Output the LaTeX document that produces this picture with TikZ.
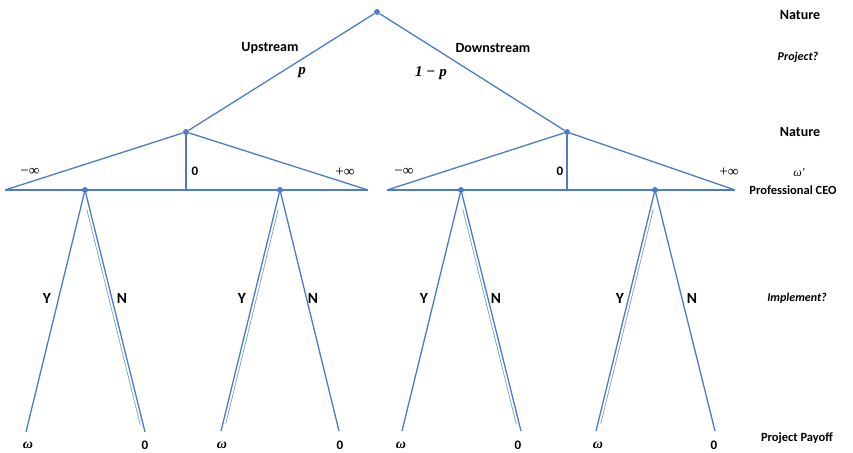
\documentclass[tikz,border=0pt]{standalone}
\usepackage{fontspec}
\setmainfont{Carlito}
\newfontfamily\mathish{Liberation Serif}
\usetikzlibrary{positioning,calc}
\definecolor{tree}{HTML}{4A7CC9}

\begin{document}
\begin{tikzpicture}[x=1pt, y=-1pt,
  dot/.style={circle, fill=tree, inner sep=0pt, minimum size=6pt},
  branch/.style={draw=tree, line width=1.3pt},
  ghost/.style={draw=tree!75, line width=0.7pt},
  lab/.style={font=\bfseries\fontsize{14}{16}\selectfont, inner sep=1pt},
  prob/.style={font=\mathish\bfseries\itshape\fontsize{15}{17}\selectfont, inner sep=1pt},
  bound/.style={font=\mathish\fontsize{15}{17}\selectfont, inner sep=1pt},
  choice/.style={font=\bfseries\fontsize{15.5}{17}\selectfont, inner sep=1pt},
  pay/.style={font=\bfseries\fontsize{13}{15}\selectfont, inner sep=1pt},
  omega/.style={font=\mathish\bfseries\itshape\fontsize{14}{16}\selectfont, inner sep=1pt},
  stage/.style={font=\bfseries\fontsize{12.5}{14}\selectfont, inner sep=1pt},
  ask/.style={font=\bfseries\itshape\fontsize{12}{14}\selectfont, inner sep=1pt}]
\useasboundingbox (0,0) rectangle (853,452);
\node[dot] (root) at (377,12) {};
\node[dot] (natL) at (186,132) {};
\node[dot] (natR) at (567,132) {};
\coordinate (bL0) at (5,190);
\coordinate (bL1) at (368,190);
\coordinate (mL) at (186,190);
\coordinate (bR0) at (387,190);
\coordinate (bR1) at (735,190);
\coordinate (mR) at (567,190);
\node[dot] (ceo1) at (85,190) {};
\node[dot] (ceo2) at (280,190) {};
\node[dot] (ceo3) at (461,190) {};
\node[dot] (ceo4) at (655,190) {};
\coordinate (y1) at (26,432);
\coordinate (n1) at (145,432);
\coordinate (y2) at (221,431);
\coordinate (n2) at (339,431);
\coordinate (y3) at (402,431);
\coordinate (n3) at (521,431);
\coordinate (y4) at (596,431);
\coordinate (n4) at (715,431);
\draw[branch] (root) -- (natL);
\draw[branch] (root) -- (natR);
\draw[branch] (bL0) -- (natL) -- (bL1);
\draw[branch] (bL0) -- (bL1);
\draw[branch] (natL) -- (mL);
\draw[branch] (bR0) -- (natR) -- (bR1);
\draw[branch] (bR0) -- (bR1);
\draw[branch] (natR) -- (mR);
\draw[branch] (y1) -- (ceo1) -- (n1);
\draw[branch] (y2) -- (ceo2) -- (n2);
\draw[branch] (y3) -- (ceo3) -- (n3);
\draw[branch] (y4) -- (ceo4) -- (n4);
\draw[ghost] ($(ceo1)!0.08!(n1)+(-3,0)$) -- ($(ceo1)!0.97!(n1)+(-3,0)$);
\draw[ghost] ($(ceo2)!0.08!(y2)+(3,0)$) -- ($(ceo2)!0.97!(y2)+(3,0)$);
\draw[ghost] ($(ceo3)!0.08!(n3)+(-3,0)$) -- ($(ceo3)!0.97!(n3)+(-3,0)$);
\draw[ghost] ($(ceo4)!0.08!(y4)+(3,0)$) -- ($(ceo4)!0.97!(y4)+(3,0)$);
\node[lab] (up) at (270,48) {Upstream};
\node[prob] (pu) at (302,73) {p};
\node[lab] (down) at (493,48) {Downstream};
\node[prob] (pd) at (431,73) {1\;{\upshape−}\;p};
\node[bound] (lo1) at (30,172) {−∞};
\node[pay] (z1) at (195,171) {0};
\node[bound] (hi1) at (345,172) {+∞};
\node[bound] (lo2) at (404,172) {−∞};
\node[pay] (z2) at (560,171) {0};
\node[bound] (hi2) at (729,172) {+∞};
\node[choice] (ya) at (47,298) {Y};
\node[choice] (na) at (122,298) {N};
\node[choice] (yb) at (242,298) {Y};
\node[choice] (nb) at (313,298) {N};
\node[choice] (yc) at (424,298) {Y};
\node[choice] (nc) at (496,298) {N};
\node[choice] (yd) at (620,298) {Y};
\node[choice] (nd) at (692,298) {N};
\node[omega] (wa) at (28,445) {ω};
\node[pay] (oa) at (145,445) {0};
\node[omega] (wb) at (222,445) {ω};
\node[pay] (ob) at (340,445) {0};
\node[omega] (wc) at (401,445) {ω};
\node[pay] (oc) at (518,445) {0};
\node[omega] (wd) at (598,445) {ω};
\node[pay] (od) at (714,445) {0};
\node[lab] (nat1) at (800,15) {Nature};
\node[ask] (proj) at (798,57) {Project?};
\node[lab] (nat2) at (800,132) {Nature};
\node[omega, font=\mathish\itshape\fontsize{12}{14}\selectfont] (wp) at (799,173) {ω′};
\node[stage] (ceo) at (793,190) {Professional CEO};
\node[ask] (impl) at (797,298) {Implement?};
\node[stage] (payoff) at (797,438) {Project Payoff};
\end{tikzpicture}
\end{document}
